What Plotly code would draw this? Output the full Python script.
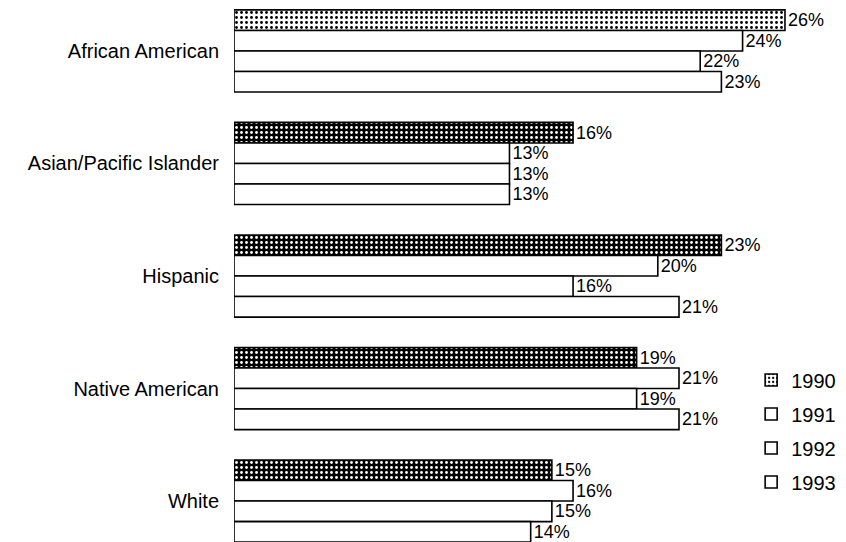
import plotly.graph_objects as go

categories = ["African American", "Asian/Pacific Islander", "Hispanic", "Native American", "White"]
years = ["1990", "1991", "1992", "1993"]
v1990 = [26, 16, 23, 19, 15]
v1991 = [24, 13, 20, 21, 16]
v1992 = [22, 13, 16, 19, 15]
v1993 = [23, 13, 21, 21, 14]
series = [v1990, v1991, v1992, v1993]

FONT = "Liberation Sans, Arial, sans-serif"

# styling for the 1990 (scanned, textured) bars
bg_1990 = ["white", "black", "black", "black", "black"]
fg_1990 = ["black", "white", "white", "white", "white"]

fig = go.Figure()
for i, (yr, vals) in enumerate(zip(years, series)):
    marker = dict(color="white", line=dict(color="black", width=1.6))
    if i == 0:
        marker["pattern"] = dict(shape=".", bgcolor=bg_1990, fgcolor=fg_1990,
                                 size=5, solidity=0.25, fillmode="replace")
    fig.add_trace(go.Bar(
        y=categories, x=vals, orientation="h", name=yr,
        marker=marker,
        text=[f"{v}%" for v in vals], textposition="outside",
        textfont=dict(size=18, color="black", family=FONT),
        cliponaxis=False, legendgroup=yr,
    ))

fig.update_layout(
    width=846, height=542,
    margin=dict(l=234, r=0, t=0, b=0, autoexpand=False),
    paper_bgcolor="white", plot_bgcolor="white",
    barmode="group", bargap=0.27, bargroupgap=0,
    font=dict(family=FONT, size=20, color="black"),
    showlegend=True,
    legend=dict(x=0.845, y=0.335, xanchor="left", yanchor="top",
                bgcolor="rgba(0,0,0,0)", font=dict(size=20, family=FONT),
                tracegroupgap=5, itemwidth=30),
)
fig.update_xaxes(range=[0, 28.88], visible=False, showgrid=False, zeroline=False,
                 automargin=False)
fig.update_yaxes(range=[4.364, -0.453], showgrid=False, zeroline=False,
                 showline=False, ticks="", ticklabelstandoff=14, automargin=False,
                 tickfont=dict(size=20, family=FONT))

fig.write_html("out.html", post_script="document.body.style.margin='0';",
               config={"displayModeBar": False})
